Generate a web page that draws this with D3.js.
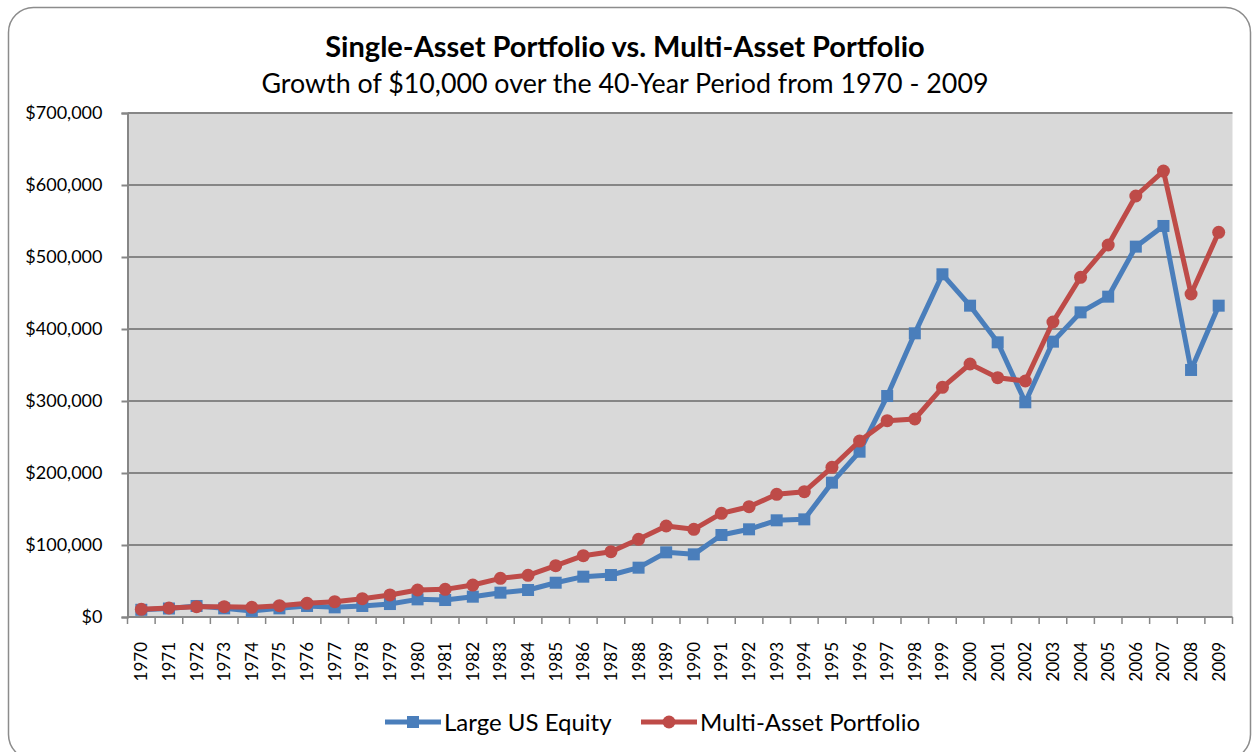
<!DOCTYPE html>
<html>
<head>
<meta charset="utf-8">
<script src="https://cdn.jsdelivr.net/npm/d3@7"></script>
<style>
  body { margin: 0; background: #fff; }
  svg text { font-family: Lato, "Open Sans", sans-serif; fill: #000; }
</style>
</head>
<body>
<div id="chart"></div>
<script>
"use strict";

var years = d3.range(1970, 2010).map(String);
var equityValues = [10000, 11800, 15300, 12000, 8300, 12000, 15300, 13400, 15300, 18000,
    24500, 23600, 28200, 33800, 37500, 47600, 56000, 58300, 68500, 89800,
    87000, 113900, 121800, 134300, 135600, 186600, 229600, 306900, 394000, 476000,
    432400, 381500, 298200, 382400, 423100, 444900, 514400, 543100, 343100, 432400];
var multiValues = [10700, 12500, 14300, 14300, 13400, 15700, 19000, 21300, 25400, 30600,
    37500, 38400, 44400, 53700, 57900, 71300, 85200, 90700, 107900, 126400,
    121800, 144000, 153200, 170400, 174100, 207900, 244400, 272700, 275000, 319000,
    351400, 332400, 327800, 409700, 471800, 516700, 584700, 619400, 448600, 534300];
var yTicks = [0, 100000, 200000, 300000, 400000, 500000, 600000, 700000];
var seriesNames = ["Large US Equity", "Multi-Asset Portfolio"];

var W = 1253, H = 752;
var margin = { top: 113, right: 20.5, bottom: 135, left: 127.5 };
var width = W - margin.left - margin.right;
var height = H - margin.top - margin.bottom;

var blue = "#4a7ebb", red = "#be4b48", grid = "#868686";

var svg = d3.select("#chart").append("svg")
    .attr("width", W)
    .attr("height", H);

// outer frame, its bottom edge runs off the picture
svg.append("rect")
    .attr("x", 8.5).attr("y", 7.5)
    .attr("width", 1242).attr("height", 752)
    .attr("rx", 25).attr("ry", 25)
    .attr("fill", "#fff")
    .attr("stroke", "#8c8c8c")
    .attr("stroke-width", 1.5);

svg.append("text")
    .attr("x", 625).attr("y", 57)
    .style("text-anchor", "middle")
    .style("font-weight", "bold")
    .style("font-size", "29px")
    .text("Single-Asset Portfolio vs. Multi-Asset Portfolio");
svg.append("text")
    .attr("x", 625).attr("y", 93)
    .style("text-anchor", "middle")
    .style("font-size", "26.8px")
    .text("Growth of $10,000 over the 40-Year Period from 1970 - 2009");

var g = svg.append("g")
    .attr("transform", "translate(" + margin.left + "," + margin.top + ")");

var x = d3.scaleBand().domain(years).range([0, width]);
var y = d3.scaleLinear().domain([0, 700000]).range([height, 0]);

g.append("rect")
    .attr("width", width).attr("height", height)
    .attr("fill", "#d9d9d9");

// horizontal gridlines
g.selectAll("line.grid")
  .data(yTicks.slice(1))
  .enter().append("line")
    .attr("class", "grid")
    .attr("x1", 0).attr("x2", width)
    .attr("y1", function (d) { return y(d); })
    .attr("y2", function (d) { return y(d); })
    .attr("stroke", grid)
    .attr("stroke-width", 2);

var fmt = function (d) { return "$" + d3.format(",")(d); };
var yAxis = d3.axisLeft(y).tickValues(yTicks).tickFormat(fmt).tickSize(6).tickPadding(19);
var yG = g.append("g").call(yAxis);
yG.select(".domain").attr("stroke", grid).attr("stroke-width", 2);
yG.selectAll(".tick line").attr("stroke", grid).attr("stroke-width", 2);
yG.selectAll("text").style("font-size", "18px");

// x axis with ticks at category boundaries
var xG = g.append("g").attr("transform", "translate(0," + height + ")");
xG.append("line")
    .attr("x1", 0).attr("x2", width)
    .attr("stroke", grid).attr("stroke-width", 2);
xG.selectAll("line.tk")
  .data(years.concat(["end"]))
  .enter().append("line")
    .attr("class", "tk")
    .attr("x1", function (d, i) { return i * x.bandwidth(); })
    .attr("x2", function (d, i) { return i * x.bandwidth(); })
    .attr("y1", 0).attr("y2", 7)
    .attr("stroke", grid).attr("stroke-width", 1.5);
xG.selectAll("text")
  .data(years)
  .enter().append("text")
    .attr("transform", function (d) {
        return "translate(" + (x(d) + x.bandwidth() / 2 + 6) + ",25) rotate(-90)";
    })
    .style("text-anchor", "end")
    .style("font-size", "17px")
    .text(function (d) { return d; });

var line = d3.line()
    .x(function (d, i) { return x(years[i]) + x.bandwidth() / 2; })
    .y(function (d) { return y(d); });

function drawSeries(values, color, shape) {
    g.append("path")
        .datum(values)
        .attr("d", line)
        .attr("fill", "none")
        .attr("stroke", color)
        .attr("stroke-width", 5)
        .attr("stroke-linejoin", "round");
    var pts = g.selectAll(null).data(values).enter();
    if (shape === "square") {
        pts.append("rect")
            .attr("x", function (d, i) { return x(years[i]) + x.bandwidth() / 2 - 6; })
            .attr("y", function (d) { return y(d) - 6; })
            .attr("width", 12).attr("height", 12)
            .attr("fill", color);
    } else {
        pts.append("circle")
            .attr("cx", function (d, i) { return x(years[i]) + x.bandwidth() / 2; })
            .attr("cy", function (d) { return y(d); })
            .attr("r", 6.5)
            .attr("fill", color);
    }
}
drawSeries(equityValues, blue, "square");
drawSeries(multiValues, red, "circle");

// legend
var legend = svg.append("g").attr("transform", "translate(0,722)");
var items = [
    { name: seriesNames[0], color: blue, shape: "square", x0: 385 },
    { name: seriesNames[1], color: red, shape: "circle", x0: 641 }
];
items.forEach(function (it) {
    legend.append("line")
        .attr("x1", it.x0).attr("x2", it.x0 + 56)
        .attr("stroke", it.color).attr("stroke-width", 5);
    if (it.shape === "square") {
        legend.append("rect")
            .attr("x", it.x0 + 22).attr("y", -6)
            .attr("width", 12).attr("height", 12)
            .attr("fill", it.color);
    } else {
        legend.append("circle")
            .attr("cx", it.x0 + 28).attr("r", 6.5)
            .attr("fill", it.color);
    }
    legend.append("text")
        .attr("x", it.x0 + 59).attr("y", 9)
        .style("font-size", "24px")
        .text(it.name);
});
</script>
</body>
</html>
